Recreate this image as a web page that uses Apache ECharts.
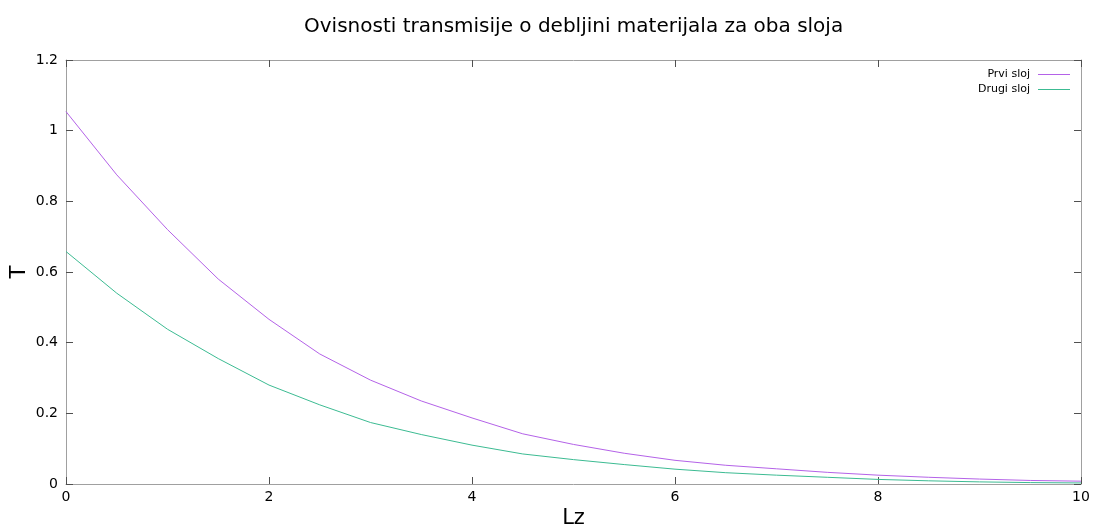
<!DOCTYPE html>
<html><head><meta charset="utf-8">
<script src="https://cdn.jsdelivr.net/npm/echarts@6/dist/echarts.min.js"></script>
<style>html,body{margin:0;padding:0;background:#fff}#c{width:1096px;height:528px}</style>
</head><body><div id="c"></div>
<script>
var xValues = [0,0.5,1,1.5,2,2.5,3,3.5,4,4.5,5,5.5,6,6.5,7,7.5,8,8.5,9,9.5,10];
var prviSloj = [1.054,0.875,0.72,0.58,0.466,0.368,0.294,0.235,0.187,0.142,0.112,0.087,0.067,0.053,0.043,0.033,0.025,0.019,0.014,0.010,0.008];
var drugiSloj = [0.658,0.54,0.438,0.355,0.280,0.224,0.174,0.140,0.110,0.085,0.069,0.055,0.042,0.032,0.025,0.019,0.013,0.009,0.006,0.004,0.003];
var titleText = 'Ovisnosti transmisije o debljini materijala za oba sloja';
var seriesNames = ['Prvi sloj','Drugi sloj'];
var xName = 'Lz', yName = 'T';

function pairs(ys){ return xValues.map(function(x,i){return [x, ys[i]];}); }
var font = 'DejaVu Sans';
var axisLineStyle = {color:'#a0a0a0', width:1};
var tickStyle = {color:'#505050', width:1};
var chart = echarts.init(document.getElementById('c'), null, {renderer:'canvas'});
chart.setOption({
  animation:false,
  backgroundColor:'#fff',
  title:{text:titleText, left:299, top:12, textStyle:{fontFamily:font, fontSize:20, fontWeight:'normal', color:'#000'}},
  grid:{left:66, right:15, top:60, bottom:44, containLabel:false, outerBoundsMode:'none'},
  legend:{
    right:21, top:64, orient:'vertical', align:'right', itemGap:4,
    itemWidth:32, itemHeight:10,
    textStyle:{fontFamily:font, fontSize:11, color:'#000', padding:[0,3,0,0]},
    data:[{name:seriesNames[0], icon:'path://M0,4.5H32V5.5H0Z'},{name:seriesNames[1], icon:'path://M0,4.5H32V5.5H0Z'}]
  },
  xAxis:[{
    type:'value', min:0, max:10, interval:2, position:'bottom',
    name:xName, nameLocation:'middle', nameGap:35, nameMoveOverlap:false,
    nameTextStyle:{fontFamily:font, fontSize:21, color:'#000', verticalAlign:'middle', lineHeight:22},
    axisLine:{show:true, onZero:false, lineStyle:axisLineStyle},
    axisTick:{show:true, inside:true, length:7, lineStyle:tickStyle},
    axisLabel:{fontFamily:font, fontSize:14, color:'#000', margin:6},
    splitLine:{show:false}
  },{
    type:'value', min:0, max:10, interval:2, position:'top',
    axisLine:{show:true, onZero:false, lineStyle:axisLineStyle},
    axisTick:{show:true, inside:true, length:7, lineStyle:tickStyle},
    axisLabel:{show:false}, splitLine:{show:false}
  }],
  yAxis:[{
    type:'value', min:0, max:1.2, interval:0.2, position:'left',
    name:yName, nameLocation:'middle', nameGap:46, nameRotate:90, nameMoveOverlap:false,
    nameTextStyle:{fontFamily:font, fontSize:21, color:'#000', verticalAlign:'middle', lineHeight:22},
    axisLine:{show:true, onZero:false, lineStyle:axisLineStyle},
    axisTick:{show:true, inside:true, length:7, lineStyle:tickStyle},
    axisLabel:{fontFamily:font, fontSize:14, color:'#000', margin:8,
      formatter:function(v){return String(Math.round(v*10)/10);}},
    splitLine:{show:false}
  },{
    type:'value', min:0, max:1.2, interval:0.2, position:'right',
    axisLine:{show:true, onZero:false, lineStyle:axisLineStyle},
    axisTick:{show:true, inside:true, length:7, lineStyle:tickStyle},
    axisLabel:{show:false}, splitLine:{show:false}
  }],
  series:[
    {name:seriesNames[0], type:'line', data:pairs(prviSloj), showSymbol:false, symbol:'none',
      lineStyle:{color:'#b462e8', width:1}, itemStyle:{color:'#b462e8'}},
    {name:seriesNames[1], type:'line', data:pairs(drugiSloj), showSymbol:false, symbol:'none',
      lineStyle:{color:'#3cbb92', width:1}, itemStyle:{color:'#3cbb92'}}
  ]
});
</script></body></html>
